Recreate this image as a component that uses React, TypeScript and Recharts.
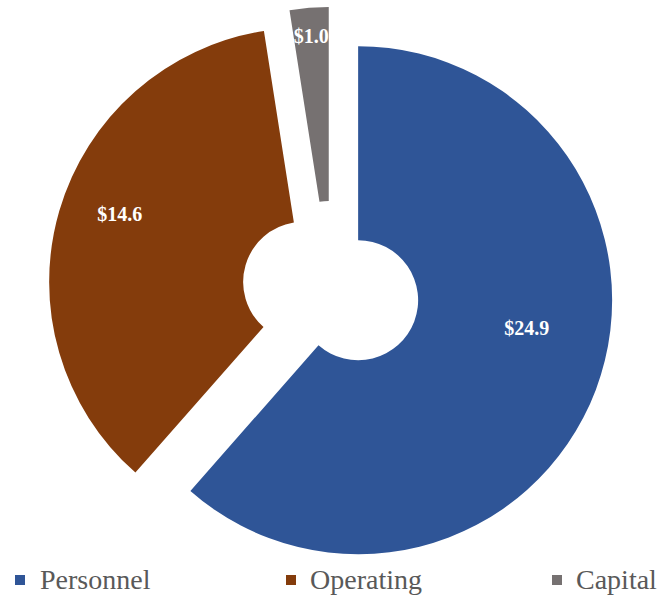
import { PieChart, Pie, Cell, Legend } from "recharts";

const categories = ["Personnel", "Operating", "Capital"];
const amounts = [24.9, 14.6, 1.0];
const valueLabels = ["$24.9", "$14.6", "$1.0"];
const colors = ["#2F5597", "#843C0C", "#767171"];

const data = categories.map((name, i) => ({ name, value: amounts[i] }));
const total = amounts.reduce((a, b) => a + b, 0);

const CX = 331;
const CY = 290;
const EXPLODE = 29;
const INNER = 60;
const OUTER = 254;
const RAD = Math.PI / 180;
const FONT = "'Liberation Serif', 'DejaVu Serif', serif";

// where each value label sits inside its slice
const labelRadius = [0.673, 0.77, 0.89];
const labelNudge = [11.3, -4, 0];

// push each slice out along its own mid angle
function sliceOffset(i: number) {
  const before = amounts.slice(0, i).reduce((a, b) => a + b, 0);
  const mid = ((before + amounts[i] / 2) / total) * 360;
  return { dx: EXPLODE * Math.sin(mid * RAD), dy: -EXPLODE * Math.cos(mid * RAD) };
}

function makeLabel(i: number) {
  return (props: any) => {
    if (props.index !== i) return null;
    const ang = props.midAngle + labelNudge[i];
    const r = OUTER * labelRadius[i];
    const x = props.cx + r * Math.cos(-ang * RAD);
    const y = props.cy + r * Math.sin(-ang * RAD);
    return (
      <text
        x={x}
        y={y}
        fill="#ffffff"
        textAnchor="middle"
        dominantBaseline="central"
        fontFamily={FONT}
        fontWeight="bold"
        fontSize={20}
      >
        {valueLabels[i]}
      </text>
    );
  };
}

function LegendRow() {
  return (
    <div style={{ display: "flex", paddingLeft: 15, fontFamily: FONT, width: 646 }}>
      {categories.map((name, i) => (
        <div
          key={name}
          style={{ flex: "0 0 auto", width: i === 0 ? 271 : i === 1 ? 266 : 100, display: "flex", alignItems: "center" }}
        >
          <span
            style={{ flex: "0 0 auto", width: 10, height: 10, background: colors[i], display: "inline-block", marginRight: i === 0 ? 15 : 14 }}
          />
          <span style={{ fontFamily: FONT, fontSize: 28, lineHeight: "34px", color: "#595959", whiteSpace: "nowrap" }}>{name}</span>
        </div>
      ))}
    </div>
  );
}

export default function App() {
  return (
    <div style={{ position: "absolute", left: 0, top: 0, width: 661, height: 599, background: "#fff", overflow: "hidden" }}>
      <PieChart width={661} height={599} margin={{ top: 0, right: 0, bottom: 0, left: 0 }}>
        {categories.map((name, i) => {
          const { dx, dy } = sliceOffset(i);
          return (
            <Pie
              key={name}
              data={data}
              dataKey="value"
              nameKey="name"
              cx={CX + dx}
              cy={CY + dy}
              innerRadius={INNER}
              outerRadius={OUTER}
              startAngle={90}
              endAngle={-270}
              stroke="none"
              labelLine={false}
              label={makeLabel(i)}
              isAnimationActive={false}
            >
              {data.map((d, j) => (
                <Cell key={d.name} fill={j === i ? colors[j] : "transparent"} stroke="none" />
              ))}
            </Pie>
          );
        })}
        <Legend
          content={() => <LegendRow />}
          wrapperStyle={{ position: "absolute", left: 0, top: 563, width: 661, height: 34 }}
        />
      </PieChart>
    </div>
  );
}
